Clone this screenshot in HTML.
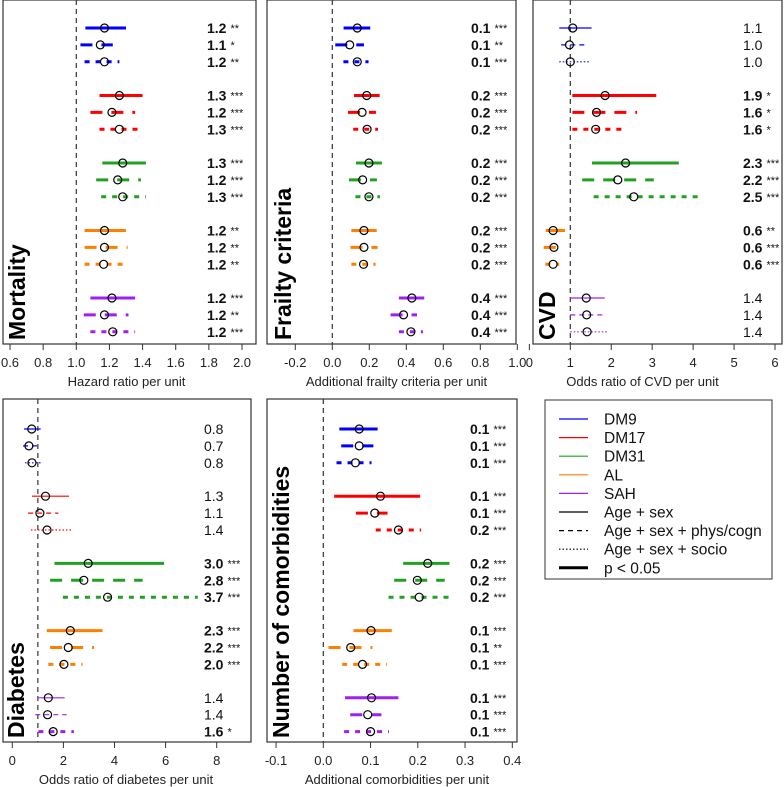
<!DOCTYPE html>
<html><head><meta charset="utf-8">
<style>
html,body{margin:0;padding:0;background:#fff;}
svg{display:block;font-family:"Liberation Sans",Arial,sans-serif;}
</style></head>
<body>
<svg id="chart" width="784" height="787" viewBox="0 0 784 787" xmlns="http://www.w3.org/2000/svg">
<g id="legend">
<rect x="545" y="400" width="227" height="179" fill="#fff" stroke="#333" stroke-width="1"/>
</g>
</svg>
<script>
// Order of rows: DM9, DM17, DM31, AL, SAH; each with models Age+sex, +phys/cogn, +socio
const groups = ["DM9","DM17","DM31","AL","SAH"];
const groupColors = ["#0000ff","#ff0000","#22a022","#ff7f00","#a020f0"];
const models = ["Age + sex","Age + sex + phys/cogn","Age + sex + socio"];

// Mortality
const mortEst = [1.17,1.145,1.17, 1.26,1.215,1.26, 1.28,1.25,1.28, 1.17,1.17,1.165, 1.215,1.17,1.22];
const mortLo  = [1.055,1.025,1.05, 1.14,1.085,1.14, 1.157,1.12,1.15, 1.05,1.05,1.05, 1.085,1.045,1.085];
const mortHi  = [1.30,1.22,1.26, 1.40,1.355,1.40, 1.42,1.39,1.42, 1.30,1.31,1.30, 1.355,1.315,1.355];
const mortLab = ["1.2","1.1","1.2","1.3","1.2","1.3","1.3","1.2","1.3","1.2","1.2","1.2","1.2","1.2","1.2"];
const mortStars = ["**","*","**","***","***","***","***","***","***","**","**","**","***","**","***"];
const mortSig = [1,1,1,1,1,1,1,1,1,1,1,1,1,1,1];
const mortTicks = ["0.6","0.8","1.0","1.2","1.4","1.6","1.8","2.0"];

// Frailty criteria
const frailEst = [0.135,0.094,0.135, 0.186,0.161,0.188, 0.198,0.164,0.198, 0.171,0.171,0.169, 0.43,0.385,0.425];
const frailLo  = [0.061,0.016,0.06, 0.117,0.085,0.113, 0.128,0.09,0.125, 0.103,0.098,0.103, 0.36,0.315,0.36];
const frailHi  = [0.205,0.171,0.196, 0.256,0.236,0.247, 0.268,0.241,0.258, 0.24,0.245,0.234, 0.497,0.458,0.49];
const frailLab = ["0.1","0.1","0.1","0.2","0.2","0.2","0.2","0.2","0.2","0.2","0.2","0.2","0.4","0.4","0.4"];
const frailStars = ["***","**","***","***","***","***","***","***","***","***","***","***","***","***","***"];
const frailSig = [1,1,1,1,1,1,1,1,1,1,1,1,1,1,1];
const frailTicks = ["-0.2","0.0","0.2","0.4","0.6","0.8","1.0"];

// CVD
const cvdEst = [1.06,0.98,1.0, 1.85,1.64,1.62, 2.35,2.16,2.55, 0.58,0.6,0.58, 1.39,1.4,1.41];
const cvdLo  = [0.73,0.78,0.73, 1.05,1.05,1.05, 1.53,1.29,1.57, 0.4,0.35,0.39, 1.0,1.0,1.0];
const cvdHi  = [1.52,1.37,1.46, 3.1,2.63,2.39, 3.65,3.04,4.14, 0.87,0.65,0.73, 1.84,1.84,1.9];
const cvdLab = ["1.1","1.0","1.0","1.9","1.6","1.6","2.3","2.2","2.5","0.6","0.6","0.6","1.4","1.4","1.4"];
const cvdStars = ["","","","*","*","*","***","***","***","**","***","***","","",""];
const cvdSig = [0,0,0,1,1,1,1,1,1,1,1,1,0,0,0];
const cvdTicks = ["0","1","2","3","4","5","6"];

// Diabetes
const diabEst = [0.76,0.65,0.77, 1.3,1.08,1.36, 2.97,2.8,3.73, 2.27,2.19,2.02, 1.41,1.38,1.6];
const diabLo  = [0.46,0.42,0.5, 0.77,0.62,0.73, 1.65,1.48,1.98, 1.35,1.48,1.41, 0.99,0.9,1.02];
const diabHi  = [1.11,0.99,1.15, 2.22,1.8,2.3, 5.94,5.1,7.26, 3.53,3.2,2.75, 2.05,2.13,2.41];
const diabLab = ["0.8","0.7","0.8","1.3","1.1","1.4","3.0","2.8","3.7","2.3","2.2","2.0","1.4","1.4","1.6"];
const diabStars = ["","","","","","","***","***","***","***","***","***","","","*"];
const diabSig = [0,0,0,0,0,0,1,1,1,1,1,1,0,0,1];
const diabTicks = ["0","2","4","6","8"];

// Number of comorbidities
const comEst = [0.076,0.076,0.068, 0.121,0.109,0.159, 0.221,0.199,0.203, 0.101,0.058,0.083, 0.102,0.094,0.1];
const comLo  = [0.034,0.038,0.028, 0.023,0.069,0.111, 0.169,0.15,0.138, 0.064,0.011,0.04, 0.046,0.057,0.044];
const comHi  = [0.115,0.106,0.102, 0.205,0.136,0.207, 0.267,0.257,0.274, 0.145,0.104,0.135, 0.159,0.123,0.139];
const comLab = ["0.1","0.1","0.1","0.1","0.1","0.2","0.2","0.2","0.2","0.1","0.1","0.1","0.1","0.1","0.1"];
const comStars = ["***","***","***","***","***","***","***","***","***","***","**","***","***","***","***"];
const comSig = [1,1,1,1,1,1,1,1,1,1,1,1,1,1,1];
const comTicks = ["-0.1","0.0","0.1","0.2","0.3","0.4"];

const NS = "http://www.w3.org/2000/svg";
const svg = document.getElementById('chart');
function mk(tag, attrs, parent){
  const e = document.createElementNS(NS, tag);
  for (const k in attrs) e.setAttribute(k, attrs[k]);
  (parent||svg).appendChild(e);
  return e;
}
function dashFor(m, sig){
  if (m===1) return sig ? "12 9" : "5 4";
  if (m===2) return sig ? "5 6" : "1.5 2";
  return "none";
}

function panel(p){
  const g = mk('g', {});
  
  
  const xs = v => p.px0 + (v - p.v0) * p.scale;
  // box
  const box = mk('rect', {x:p.bx0, y:p.by0, width:p.bx1-p.bx0, height:p.by1-p.by0, fill:'none', stroke:'#333', 'stroke-width':1.2}, g);
  
  
  // reference line
  const ref = mk('line', {x1:xs(p.ref), x2:xs(p.ref), y1:p.by0, y2:p.by1, stroke:'#333', 'stroke-width':1.2, 'stroke-dasharray':'5 4'}, g);
  
  
  // axis
  const ax = mk('g', {}, g);
  
  
  p.ticks.forEach(t => {
    const v = parseFloat(t);
    const x = xs(v);
    const tl = mk('line', {x1:x, x2:x, y1:p.by1, y2:p.by1+6, stroke:'#333', 'stroke-width':1}, ax);
    
    
    const tx = mk('text', {x:x, y:p.by1+23, 'text-anchor':'middle', 'font-size':13, fill:'#222'}, ax);
    
    
    tx.textContent = t;
  });
  const title = mk('text', {x:(p.bx0+p.bx1)/2 + (p.titleDx||0), y:p.by1+42, 'text-anchor':'middle', 'font-size':13, fill:'#222'}, g);
  
  
  title.textContent = p.xtitle;
  // vertical panel title
  const vt = mk('text', {x:0, y:0, 'font-size':23, 'font-weight':'bold', fill:'#000', transform:`translate(${p.vtx},${p.by1-4}) rotate(-90)`}, g);
  
  
  vt.textContent = p.vtitle;
  // rows
  for (let i = 0; i < p.est.length; i++){
    const gi = Math.floor(i/3), m = i % 3;
    const y = p.row0 + gi*p.gap + m*16.9;
    const sig = p.sig[i];
    const col = groupColors[gi];
    const ci = mk('line', {x1:xs(p.lo[i]), x2:xs(p.hi[i]), y1:y, y2:y, stroke:col, 'stroke-width': sig?3:1.2}, g);
    const da = dashFor(m, sig);
    if (da !== "none") ci.setAttribute('stroke-dasharray', da);
    
    
    const pt = mk('circle', {cx:xs(p.est[i]), cy:y, r:4, fill:'none', stroke:'#000', 'stroke-width':1.2}, g);
    
    
    const lab = mk('text', {x:p.labx, y:y+5, 'font-size':14, fill:'#111'}, g);
    
    
    const t1 = mk('tspan', {'font-weight': sig?'bold':'normal'}, lab);
    t1.textContent = p.lab[i];
    if (p.stars[i]) {
      const t2 = mk('tspan', {'font-size':11, dx:4, dy:-1}, lab);
      t2.textContent = p.stars[i];
    }
  }
}

panel({name:'mortality', bx0:3, bx1:256, by0:0, by1:344, px0:76.3, v0:1.0, scale:165.7, ref:1.0,
  ticks:mortTicks, xtitle:'Hazard ratio per unit', vtitle:'Mortality', vtx:25, row0:28, gap:67.5, labx:207,
  est:mortEst, lo:mortLo, hi:mortHi, lab:mortLab, stars:mortStars, sig:mortSig, titleDx:-3});
panel({name:'frailty', bx0:267, bx1:516, by0:0, by1:344, px0:332.3, v0:0, scale:185, ref:0,
  ticks:frailTicks, xtitle:'Additional frailty criteria per unit', vtitle:'Frailty criteria', vtx:291, row0:28, gap:67.5, labx:471,
  est:frailEst, lo:frailLo, hi:frailHi, lab:frailLab, stars:frailStars, sig:frailSig, titleDx:5});
panel({name:'cvd', bx0:533, bx1:782, by0:0, by1:344, px0:570.3, v0:1, scale:40.94, ref:1,
  ticks:cvdTicks, xtitle:'Odds ratio of CVD per unit', vtitle:'CVD', vtx:555, row0:28, gap:67.5, labx:743,
  est:cvdEst, lo:cvdLo, hi:cvdHi, lab:cvdLab, stars:cvdStars, sig:cvdSig, titleDx:-15});
panel({name:'diabetes', bx0:3, bx1:251, by0:399, by1:742, px0:12.3, v0:0, scale:25.55, ref:1,
  ticks:diabTicks, xtitle:'Odds ratio of diabetes per unit', vtitle:'Diabetes', vtx:24, row0:429, gap:67.2, labx:204,
  est:diabEst, lo:diabLo, hi:diabHi, lab:diabLab, stars:diabStars, sig:diabSig, titleDx:-1});
panel({name:'comorbidities', bx0:267, bx1:517, by0:399, by1:742, px0:323.3, v0:0, scale:472.5, ref:0,
  ticks:comTicks, xtitle:'Additional comorbidities per unit', vtitle:'Number of comorbidities', vtx:289, row0:429, gap:67.2, labx:470,
  est:comEst, lo:comLo, hi:comHi, lab:comLab, stars:comStars, sig:comSig, titleDx:5});

// Legend
const legend = document.getElementById('legend');
const legItems = [
  {t:'DM9', c:groupColors[0], w:1.2, d:'none'},
  {t:'DM17', c:groupColors[1], w:1.2, d:'none'},
  {t:'DM31', c:groupColors[2], w:1.2, d:'none'},
  {t:'AL', c:groupColors[3], w:1.2, d:'none'},
  {t:'SAH', c:groupColors[4], w:1.2, d:'none'},
  {t:'Age + sex', c:'#000', w:1.2, d:'none'},
  {t:'Age + sex + phys/cogn', c:'#000', w:1.2, d:'5 4'},
  {t:'Age + sex + socio', c:'#000', w:1.2, d:'1.5 2'},
  {t:'p < 0.05', c:'#000', w:3, d:'none'}
];
legItems.forEach((it, i) => {
  const y = 419 + i*18.6;
  const ln = mk('line', {x1:559, x2:588, y1:y, y2:y, stroke:it.c, 'stroke-width':it.w}, legend);
  if (it.d !== 'none') ln.setAttribute('stroke-dasharray', it.d);
  
  
  const tx = mk('text', {x:604, y:y+5.5, 'font-size':15.5, fill:'#111'}, legend);
  
  
  tx.textContent = it.t;
});
</script>
</body></html>
